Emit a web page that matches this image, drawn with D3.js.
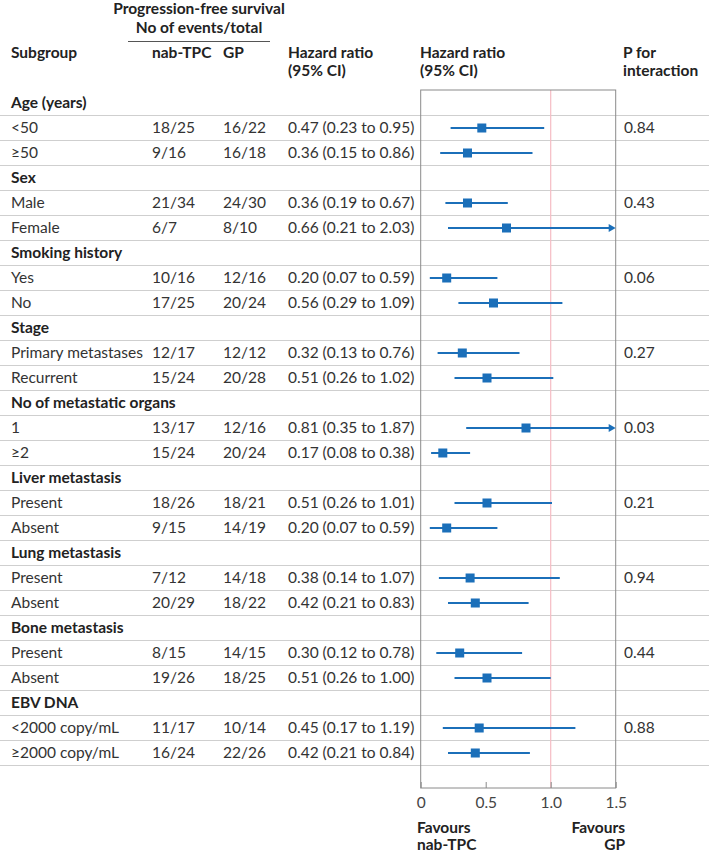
<!DOCTYPE html>
<html>
<head>
<meta charset="utf-8">
<script src="https://cdn.jsdelivr.net/npm/d3@7"></script>
<style>
  body { margin: 0; background: #fff; }
  svg text { font-family: Lato, "Open Sans", sans-serif; font-size: 15.5px; fill: #333; }
  .bold { font-weight: bold; fill: #222; }
  .row-line { stroke: #cfcfcf; stroke-width: 1; }
  .axis text { fill: #444; }
</style>
</head>
<body>
<svg id="chart"></svg>
<script>
// subgroup data
const groups = ['Age (years)', 'Sex', 'Smoking history', 'Stage', 'No of metastatic organs',
    'Liver metastasis', 'Lung metastasis', 'Bone metastasis', 'EBV DNA'];
const subgroups = ['<50', '≥50', 'Male', 'Female', 'Yes', 'No', 'Primary metastases', 'Recurrent',
    '1', '≥2', 'Present', 'Absent', 'Present', 'Absent', 'Present', 'Absent', '<2000 copy/mL', '≥2000 copy/mL'];
const nabTPC = ['18/25', '9/16', '21/34', '6/7', '10/16', '17/25', '12/17', '15/24', '13/17', '15/24',
    '18/26', '9/15', '7/12', '20/29', '8/15', '19/26', '11/17', '16/24'];
const gp = ['16/22', '16/18', '24/30', '8/10', '12/16', '20/24', '12/12', '20/28', '12/16', '20/24',
    '18/21', '14/19', '14/18', '18/22', '14/15', '18/25', '10/14', '22/26'];
const hr = [0.47, 0.36, 0.36, 0.66, 0.20, 0.56, 0.32, 0.51, 0.81, 0.17, 0.51, 0.20, 0.38, 0.42, 0.30, 0.51, 0.45, 0.42];
const hrLow = [0.23, 0.15, 0.19, 0.21, 0.07, 0.29, 0.13, 0.26, 0.35, 0.08, 0.26, 0.07, 0.14, 0.21, 0.12, 0.26, 0.17, 0.21];
const hrHigh = [0.95, 0.86, 0.67, 2.03, 0.59, 1.09, 0.76, 1.02, 1.87, 0.38, 1.01, 0.59, 1.07, 0.83, 0.78, 1.00, 1.19, 0.84];
const pInteraction = ['0.84', '0.43', '0.06', '0.27', '0.03', '0.21', '0.94', '0.44', '0.88'];
const axisTicks = [0, 0.5, 1.0, 1.5];

const width = 709, height = 854;
const col = { sub: 11, nab: 152, gp: 223, hrText: 288, plot: 420, p: 623 };
const plotTop = 90, plotBottom = 788;

// flatten into rows: a header row then two subgroup rows per group
const rows = [];
groups.forEach((g, gi) => {
    rows.push({ id: 'g' + gi, header: true, label: g });
    [0, 1].forEach(k => {
        const i = gi * 2 + k;
        rows.push({
            id: 's' + i, header: false, label: subgroups[i], nab: nabTPC[i], gp: gp[i],
            hr: hr[i], lo: hrLow[i], hi: hrHigh[i], p: k === 0 ? pInteraction[gi] : ''
        });
    });
});

const svg = d3.select('#chart')
    .attr('width', width)
    .attr('height', height);

// scales
const xScale = d3.scaleLinear().domain([0, 1.5]).range([420.7, 615.7]);
const yScale = d3.scaleBand().domain(rows.map(d => d.id)).range([90, 765]);
const fmt = d => `${d.hr.toFixed(2)} (${d.lo.toFixed(2)} to ${d.hi.toFixed(2)})`;

// column headers
svg.append('text').attr('class', 'bold').attr('x', 199).attr('y', 14)
    .attr('text-anchor', 'middle').text('Progression-free survival');
svg.append('text').attr('class', 'bold').attr('x', 199).attr('y', 33)
    .attr('text-anchor', 'middle').text('No of events/total');
svg.append('line').attr('x1', 128).attr('x2', 270).attr('y1', 41.5).attr('y2', 41.5)
    .attr('stroke', '#555').attr('stroke-width', 1);

const headers = [
    { x: col.sub, lines: ['Subgroup'] },
    { x: col.nab, lines: ['nab-TPC'] },
    { x: col.gp, lines: ['GP'] },
    { x: col.hrText, lines: ['Hazard ratio', '(95% CI)'] },
    { x: col.plot, lines: ['Hazard ratio', '(95% CI)'] },
    { x: col.p, lines: ['P for', 'interaction'] }
];
headers.forEach(h => {
    h.lines.forEach((t, j) => {
        svg.append('text').attr('class', 'bold').attr('x', h.x).attr('y', 58 + j * 18).text(t);
    });
});

// row separator lines
svg.selectAll('.row-line')
    .data(rows)
    .enter()
    .append('line')
    .attr('class', 'row-line')
    .attr('x1', 0).attr('x2', width)
    .attr('y1', d => yScale(d.id) + yScale.bandwidth() + 0.5)
    .attr('y2', d => yScale(d.id) + yScale.bandwidth() + 0.5);

// plot box and reference line
svg.append('line')
    .attr('x1', xScale(1)).attr('x2', xScale(1))
    .attr('y1', plotTop).attr('y2', plotBottom)
    .attr('stroke', '#f6bcc4').attr('stroke-width', 1.2);
svg.append('rect')
    .attr('x', xScale(0)).attr('y', plotTop)
    .attr('width', xScale(1.5) - xScale(0)).attr('height', plotBottom - plotTop)
    .attr('fill', 'none').attr('stroke', '#8a8a8a').attr('stroke-width', 1);

// text columns
const rowG = svg.selectAll('.row')
    .data(rows)
    .enter()
    .append('g')
    .attr('class', 'row')
    .attr('transform', d => `translate(0,${yScale(d.id)})`);

rowG.append('text')
    .attr('class', d => d.header ? 'bold' : null)
    .attr('x', col.sub).attr('y', 18)
    .text(d => d.label);

const dataRows = rowG.filter(d => !d.header);
dataRows.append('text').attr('x', col.nab).attr('y', 18).text(d => d.nab);
dataRows.append('text').attr('x', col.gp).attr('y', 18).text(d => d.gp);
dataRows.append('text').attr('x', col.hrText).attr('y', 18).text(fmt);
dataRows.append('text').attr('x', col.p + 1).attr('y', 18).text(d => d.p);

// confidence intervals
const blue = '#1b6fb9';
const mid = yScale.bandwidth() / 2 + 0.5;
dataRows.append('line')
    .attr('x1', d => xScale(d.lo))
    .attr('x2', d => d.hi > 1.5 ? xScale(1.5) - 5 : xScale(d.hi))
    .attr('y1', mid).attr('y2', mid)
    .attr('stroke', blue).attr('stroke-width', 2);

// arrows for intervals running past the axis
dataRows.filter(d => d.hi > 1.5)
    .append('path')
    .attr('d', () => {
        const tip = xScale(1.5);
        return `M${tip},${mid} L${tip - 7},${mid - 4} L${tip - 7},${mid + 4} Z`;
    })
    .attr('fill', blue);

// point estimates
dataRows.append('rect')
    .attr('x', d => xScale(d.hr) - 4.5)
    .attr('y', mid - 4.5)
    .attr('width', 9).attr('height', 9)
    .attr('fill', blue);

// x axis
const xAxis = d3.axisBottom(xScale)
    .tickValues(axisTicks)
    .tickSize(-6)
    .tickPadding(9)
    .tickFormat(d => d === 0 ? '0' : d3.format('.1f')(d));

const axisG = svg.append('g')
    .attr('class', 'axis')
    .attr('transform', `translate(0,${plotBottom})`)
    .call(xAxis);
axisG.select('.domain').remove();
axisG.selectAll('.tick line').attr('stroke', '#8a8a8a');
axisG.attr('font-family', null).attr('font-size', null);

// favours labels
svg.append('text').attr('class', 'bold').attr('x', 417).attr('y', 833).text('Favours');
svg.append('text').attr('class', 'bold').attr('x', 417).attr('y', 850).text('nab-TPC');
svg.append('text').attr('class', 'bold').attr('x', 625).attr('y', 833)
    .attr('text-anchor', 'end').text('Favours');
svg.append('text').attr('class', 'bold').attr('x', 625).attr('y', 850)
    .attr('text-anchor', 'end').text('GP');
</script>
</body>
</html>
